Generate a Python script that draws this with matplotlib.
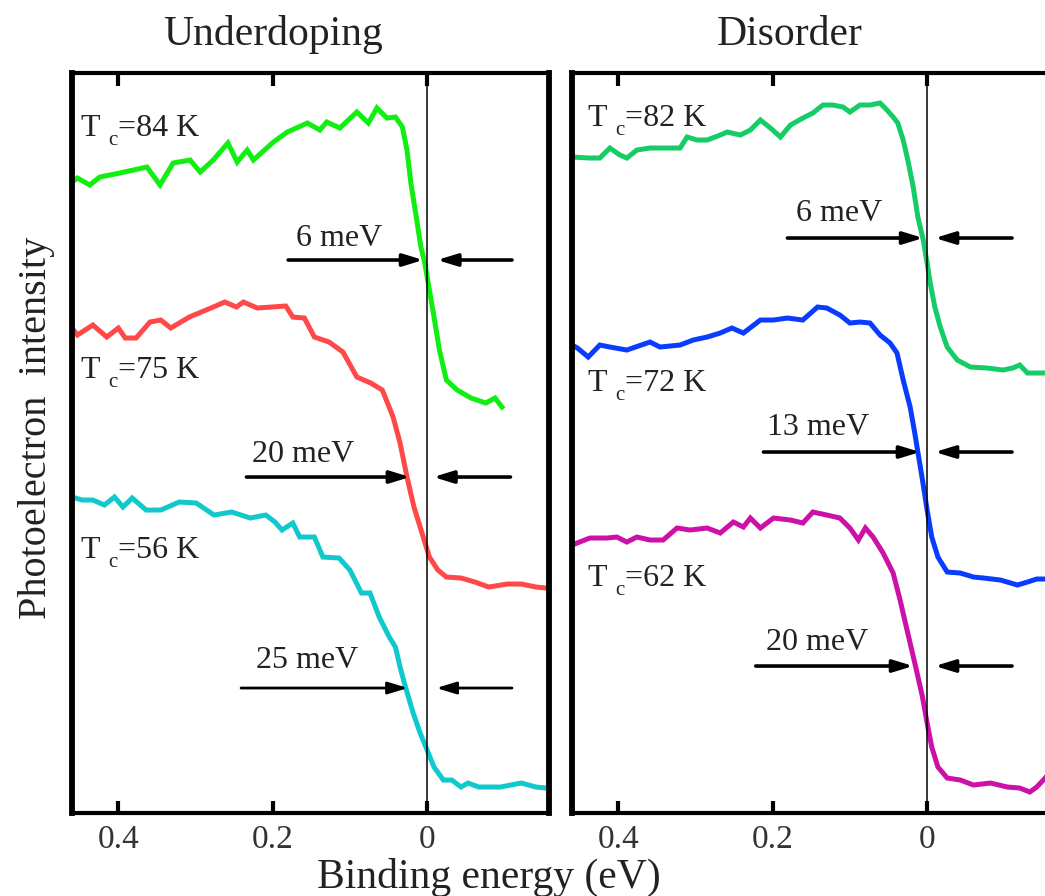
import matplotlib.pyplot as plt

plt.rcParams['font.family'] = 'Liberation Serif'

# binding energy (eV) / photoelectron intensity (arb. units, curves offset)
# --- underdoping ---
e_84 = [0.460, 0.453, 0.437, 0.424, 0.398, 0.363, 0.346, 0.329, 0.307, 0.294, 0.277,
        0.258, 0.246, 0.233, 0.225, 0.199, 0.181, 0.155, 0.139, 0.130, 0.113, 0.091,
        0.076, 0.065, 0.052, 0.041, 0.032, 0.026, 0.021, 0.014, 0.008, 0.003, -0.003,
        -0.009, -0.016, -0.025, -0.039, -0.057, -0.076, -0.088, -0.097]
i_84 = [631, 635, 628, 636, 640, 646, 628, 650, 653, 641, 653,
        670, 651, 663, 653, 671, 681, 690, 683, 691, 685, 701,
        690, 705, 695, 696, 686, 663, 630, 596, 566, 550, 523,
        496, 463, 433, 423, 415, 410, 415, 406]

e_75 = [0.460, 0.453, 0.433, 0.415, 0.400, 0.391, 0.377, 0.359, 0.345, 0.332, 0.308,
        0.280, 0.262, 0.247, 0.238, 0.220, 0.183, 0.174, 0.159, 0.146, 0.127, 0.109,
        0.091, 0.073, 0.058, 0.044, 0.035, 0.026, 0.017, 0.005, -0.003, -0.014, -0.025,
        -0.044, -0.062, -0.080, -0.104, -0.122, -0.141, -0.154]
i_75 = [485, 478, 488, 476, 485, 475, 475, 491, 493, 485, 496,
        505, 511, 506, 511, 505, 507, 496, 495, 476, 471, 461,
        436, 430, 423, 396, 370, 336, 306, 276, 256, 243, 236,
        235, 231, 226, 229, 229, 226, 225]

e_56 = [0.460, 0.447, 0.433, 0.418, 0.405, 0.394, 0.382, 0.364, 0.345, 0.321, 0.299,
        0.276, 0.253, 0.229, 0.209, 0.197, 0.188, 0.174, 0.165, 0.146, 0.135, 0.114,
        0.100, 0.085, 0.074, 0.062, 0.049, 0.041, 0.035, 0.028, 0.018, 0.009, 0.000,
        -0.009, -0.021, -0.032, -0.044, -0.053, -0.067, -0.095, -0.122, -0.141, -0.154]
i_56 = [316, 313, 313, 308, 316, 306, 315, 303, 303, 311, 310,
        298, 301, 295, 298, 291, 283, 290, 276, 276, 256, 255,
        243, 220, 220, 196, 176, 166, 146, 126, 100, 80, 63,
        46, 33, 33, 26, 30, 26, 26, 30, 26, 25]

# --- disorder ---
e_82 = [0.460, 0.437, 0.424, 0.411, 0.398, 0.389, 0.376, 0.359, 0.337, 0.320, 0.311,
        0.298, 0.285, 0.268, 0.259, 0.242, 0.229, 0.216, 0.203, 0.190, 0.177, 0.161,
        0.148, 0.135, 0.122, 0.109, 0.100, 0.087, 0.074, 0.061, 0.052, 0.044, 0.038,
        0.031, 0.025, 0.018, 0.012, 0.005, 0.000, -0.004, -0.010, -0.017, -0.026,
        -0.039, -0.056, -0.078, -0.098, -0.111, -0.120, -0.130, -0.142, -0.159]
i_82 = [656, 655, 655, 665, 658, 655, 663, 665, 665, 665, 676,
        673, 673, 678, 681, 678, 683, 693, 685, 676, 688, 695,
        700, 708, 708, 706, 701, 708, 708, 710, 703, 696, 690,
        673, 653, 626, 596, 573, 550, 530, 506, 486, 466,
        453, 446, 445, 443, 445, 448, 440, 440, 440]

e_72 = [0.460, 0.453, 0.439, 0.424, 0.411, 0.389, 0.359, 0.346, 0.320, 0.303, 0.285,
        0.268, 0.253, 0.238, 0.216, 0.199, 0.181, 0.161, 0.142, 0.130, 0.113, 0.100,
        0.087, 0.074, 0.061, 0.048, 0.039, 0.031, 0.022, 0.016, 0.012, 0.006, 0.000,
        -0.006, -0.014, -0.026, -0.043, -0.060, -0.073, -0.095, -0.117, -0.130,
        -0.142, -0.159]
i_72 = [468, 465, 456, 468, 466, 463, 471, 466, 468, 473, 476,
        480, 485, 480, 493, 493, 495, 493, 506, 505, 498, 490,
        491, 490, 478, 470, 460, 433, 406, 380, 361, 333, 303,
        276, 256, 241, 240, 236, 235, 233, 228, 231,
        234, 234]

e_62 = [0.460, 0.437, 0.415, 0.402, 0.389, 0.376, 0.359, 0.342, 0.324, 0.307, 0.285,
        0.268, 0.251, 0.238, 0.229, 0.216, 0.199, 0.177, 0.161, 0.148, 0.130, 0.113,
        0.100, 0.089, 0.080, 0.070, 0.057, 0.044, 0.035, 0.026, 0.019, 0.013, 0.006,
        0.000, -0.006, -0.014, -0.026, -0.043, -0.060, -0.082, -0.104, -0.120,
        -0.133, -0.142, -0.153, -0.159]
i_62 = [268, 275, 275, 276, 271, 276, 273, 273, 285, 283, 285,
        280, 291, 286, 295, 285, 295, 293, 290, 301, 298, 295,
        285, 273, 285, 276, 260, 240, 213, 183, 160, 140, 116,
        90, 66, 46, 35, 33, 28, 30, 26, 25,
        21, 26, 35, 41]

panel_titles = ['Underdoping', 'Disorder']
tc_labels = [['84', '75', '56'], ['82', '72', '62']]
tc_pos = [[(0.449, 685), (0.449, 443), (0.449, 263)],
          [(0.440, 695), (0.440, 430), (0.440, 235)]]
widths = [['6', '20', '25'], ['6', '13', '20']]
# level, left tail, left tip, right tail, right tip, label x, label y
width_marks = [
    [(553, 0.180, 0.005, -0.110, -0.013, 0.114, 575),
     (336, 0.234, 0.022, -0.108, -0.008, 0.161, 359),
     (125, 0.241, 0.025, -0.110, -0.012, 0.156, 153)],
    [(575, 0.181, 0.005, -0.110, -0.010, 0.114, 600),
     (361, 0.212, 0.009, -0.110, -0.010, 0.141, 386),
     (147, 0.222, 0.018, -0.110, -0.010, 0.142, 171)],
]

curves = [[(e_84, i_84, '#11ee11'), (e_75, i_75, '#ff4848'), (e_56, i_56, '#11c8cc')],
          [(e_82, i_82, '#16cc66'), (e_72, i_72, '#0a3cff'), (e_62, i_62, '#cc10a8')]]

fig = plt.figure(figsize=(10.45, 8.96), dpi=100)
ax_left = fig.add_axes([0.0689, 0.0926, 0.4565, 0.8259])
ax_right = fig.add_axes([0.5474, 0.0926, 0.4565, 0.8259])
title_x = [0.2612, 0.7560]
txt_col = '#222222'

for k, ax in enumerate([ax_left, ax_right]):
    ax.set_xlim(0.46, -0.158)
    ax.set_ylim(0, 740)
    for e, inten, col in curves[k]:
        ax.plot(e, inten, color=col, lw=3.6, solid_joinstyle='miter')
    ax.axvline(0, color='k', lw=1.1)

    # T_c labels: "T", lowered small "c", then "=.. K"
    for lab, (x, y) in zip(tc_labels[k], tc_pos[k]):
        ax.annotate('T', (x, y), fontsize=23, color=txt_col, ha='left', va='center')
        ax.annotate('c', (x, y), xytext=(20, -9), textcoords='offset points',
                    fontsize=15, color=txt_col, ha='left', va='center')
        ax.annotate('=' + lab + ' K', (x, y), xytext=(27, 0), textcoords='offset points',
                    fontsize=23, color=txt_col, ha='left', va='center')

    for w, (lev, l0, l1, r0, r1, tx, ty) in zip(widths[k], width_marks[k]):
        style = '-|>,head_length=0.85,head_width=0.26'
        lw = 2.0 if w == '25' else 2.6
        ax.annotate('', xy=(l1, lev), xytext=(l0, lev),
                    arrowprops=dict(arrowstyle=style, color='k', lw=lw,
                                    mutation_scale=14, shrinkA=0, shrinkB=0))
        ax.annotate('', xy=(r1, lev), xytext=(r0, lev),
                    arrowprops=dict(arrowstyle=style, color='k', lw=lw,
                                    mutation_scale=14, shrinkA=0, shrinkB=0))
        ax.text(tx, ty, w + ' meV', fontsize=23, color=txt_col,
                ha='center', va='center')

    ax.set_xticks([0.4, 0.2, 0])
    ax.set_xticklabels(['0.4', '0.2', '0'])
    ax.set_yticks([])
    ax.tick_params(axis='x', direction='in', top=True, length=9, width=3,
                   labelsize=24, labelcolor='#333333', pad=8)
    for side in ['left', 'right']:
        ax.spines[side].set_linewidth(4.2)
    for side in ['top', 'bottom']:
        ax.spines[side].set_linewidth(3.0)

    fig.text(title_x[k], 0.9498, panel_titles[k], fontsize=30, color=txt_col,
             ha='center', va='baseline')

fig.text(0.468, 0.0089, 'Binding energy (eV)', fontsize=30, color=txt_col,
         ha='center', va='baseline')
fig.text(0.0354, 0.5223, 'Photoelectron  intensity', fontsize=29, color=txt_col,
         ha='center', va='center', rotation=90)

plt.savefig('out.png', dpi=100)
